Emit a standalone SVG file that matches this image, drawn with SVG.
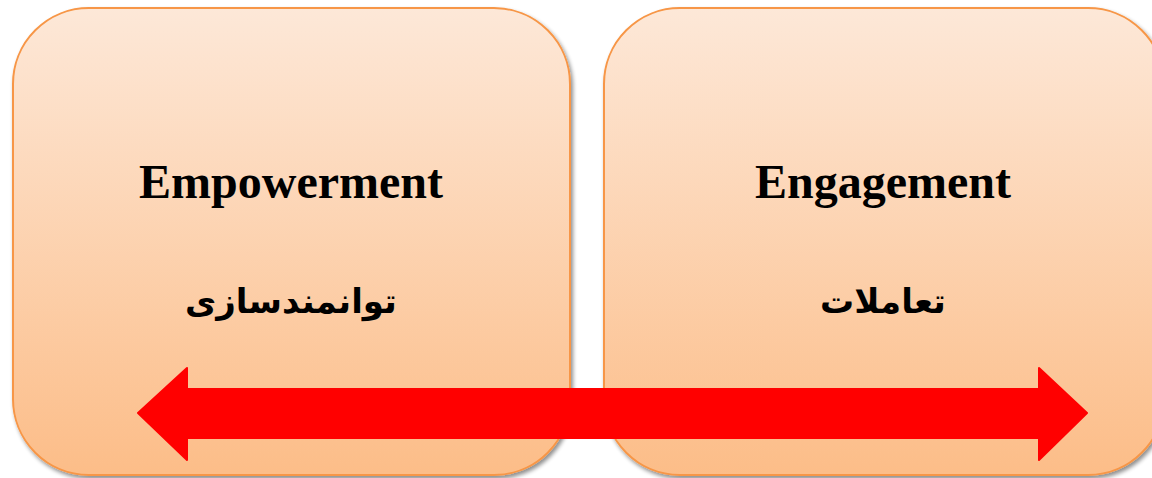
<svg xmlns="http://www.w3.org/2000/svg" width="1152" height="478" viewBox="0 0 1152 478">
<defs>
<linearGradient id="g" x1="0" y1="0" x2="0" y2="1">
<stop offset="0" stop-color="#fde8d8"/>
<stop offset="1" stop-color="#fcbd88"/>
</linearGradient>
<filter id="sh" x="-5%" y="-5%" width="110%" height="110%">
<feGaussianBlur in="SourceAlpha" stdDeviation="2"/>
<feOffset dx="2" dy="3" result="b"/>
<feComponentTransfer><feFuncA type="linear" slope="0.45"/></feComponentTransfer>
<feMerge><feMergeNode/><feMergeNode in="SourceGraphic"/></feMerge>
</filter>
</defs>
<style>
.box{fill:url(#g);stroke:#f79646;stroke-width:2}
.en{font-family:"Liberation Serif",serif;font-weight:bold;font-size:48px;text-anchor:middle;fill:#000}
.fa{font-family:"DejaVu Sans",sans-serif;font-weight:bold;font-size:34px;text-anchor:middle;fill:#000}
</style>
<rect width="1152" height="478" fill="#fff"/>
<g id="empowerment">
<rect class="box" x="13" y="8" width="557" height="467" rx="76" ry="76" filter="url(#sh)"/>
<text class="en" x="291" y="198">Empowerment</text>
<text class="fa" x="291" y="313" direction="rtl">توانمندسازی</text>
</g>
<g id="engagement">
<rect class="box" x="604" y="8" width="560" height="467" rx="76" ry="76" filter="url(#sh)"/>
<text class="en" x="883" y="198">Engagement</text>
<text class="fa" x="883" y="313" direction="rtl">تعاملات</text>
</g>
<g id="connectors">
<path d="M138,413 L187,368 L187,389 L1039,389 L1039,368 L1087,413 L1039,460 L1039,438 L187,438 L187,460 Z" fill="#ff0000" stroke="#ff0000" stroke-width="2" stroke-linejoin="round"/>
</g>
</svg>
